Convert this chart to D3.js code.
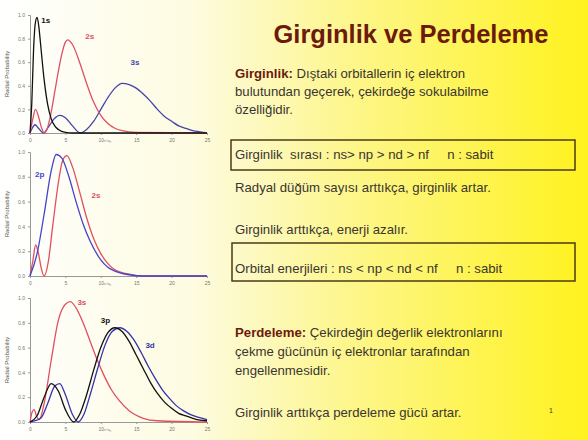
<!DOCTYPE html>
<html><head><meta charset="utf-8">
<script src="https://cdn.jsdelivr.net/npm/d3@7"></script>
<style>body{margin:0}svg{display:block}text{white-space:pre}</style></head>
<body><svg id="c" width="588" height="440"></svg>
<script>
// ---- data ----
const xTicks = [0,5,10,15,20,25];
const p1_1s_x = [0,0.25,0.5,0.75,1,1.25,1.5,2,2.5,3,3.5,4,5,6,25];
const p1_1s_y = [0,0.25,0.7,0.93,0.98,0.9,0.75,0.45,0.24,0.12,0.06,0.03,0.005,0,0];
const p1_2s_x = [0,0.4,0.76,1.2,1.6,2,2.5,3,3.5,4,4.5,5,5.3,6,7,8,9,10,11,12,13,15,25];
const p1_2s_y = [0,0.12,0.2,0.14,0.05,0,0.05,0.18,0.35,0.52,0.67,0.77,0.79,0.75,0.6,0.42,0.26,0.15,0.08,0.04,0.02,0.005,0];
const p1_3s_x = [0,0.4,0.7,1.2,1.9,2.6,3.4,4.2,5,6,7.1,8,9,10,11,12,13,14,15,16,17,18,19,20,21,22,23,24,25];
const p1_3s_y = [0,0.05,0.07,0.04,0,0.05,0.12,0.15,0.13,0.06,0,0.03,0.1,0.2,0.3,0.38,0.42,0.41,0.38,0.33,0.27,0.2,0.14,0.1,0.06,0.04,0.02,0.01,0];
const p2_2p_x = [0,1,2,3,3.7,4.5,5.5,6.5,7.5,8.5,10,11,12,14,16,25];
const p2_2p_y = [0,0.18,0.5,0.85,0.98,0.95,0.8,0.6,0.42,0.28,0.13,0.07,0.04,0.01,0,0];
const p2_2s_x = [0,0.4,0.8,1.2,1.6,2,2.6,3.2,4,4.6,5.2,6,7,8,9,10,11,12,14,16,25];
const p2_2s_y = [0,0.12,0.25,0.18,0.06,0,0.12,0.4,0.75,0.93,0.97,0.88,0.68,0.47,0.3,0.18,0.1,0.05,0.015,0,0];
const p3_red_x = [0,0.3,0.6,0.9,1.3,2,3,4,5,5.7,6.5,7.5,8.5,9.5,10.5,11.5,12.5,14,16,18,25];
const p3_red_y = [0,0.08,0.1,0.05,0.02,0.15,0.5,0.82,0.95,0.97,0.92,0.8,0.65,0.5,0.37,0.26,0.18,0.09,0.03,0.01,0];
const p3_3p_x = [0,1,2,3,4,5,6.2,7,8,9,10,11,12,13,14,15,16,17,18,19,20,21,22,23,24,25];
const p3_3p_y = [0,0.05,0.2,0.31,0.25,0.1,0,0.06,0.22,0.42,0.6,0.72,0.76,0.73,0.65,0.54,0.43,0.32,0.23,0.16,0.11,0.07,0.05,0.03,0.015,0.01];
const p3_3d_x = [0,1.5,2.5,3.5,4.2,5,6,6.8,7.6,8.6,9.6,10.6,11.6,12.7,13.7,14.7,15.7,16.7,17.7,18.7,19.7,20.7,21.7,22.7,23.7,25];
const p3_3d_y = [0,0.03,0.15,0.29,0.31,0.22,0.06,0,0.06,0.24,0.44,0.62,0.73,0.76,0.73,0.66,0.56,0.45,0.35,0.26,0.19,0.13,0.09,0.06,0.04,0.02];
const yTicks = [0,0.2,0.4,0.6,0.8,1];

const svg = d3.select("#c");
const defs = svg.append("defs");
const g = defs.append("linearGradient").attr("id","bg").attr("x1","0").attr("x2","1");
g.append("stop").attr("offset","0").attr("stop-color","#ffffff");
g.append("stop").attr("offset","0.33").attr("stop-color","#fdfbe0");
g.append("stop").attr("offset","0.6").attr("stop-color","#fdf68a");
g.append("stop").attr("offset","1").attr("stop-color","#fff21e");
svg.append("rect").attr("width",588).attr("height",440).attr("fill","url(#bg)");

function panel(top,bottom,series,labels){
  const x = d3.scaleLinear().domain([0,25]).range([30,207]);
  const y = d3.scaleLinear().domain([0,1]).range([bottom,top]);
  const gp = svg.append("g");
  gp.append("g").attr("transform","translate(0,"+bottom+")")
    .call(d3.axisBottom(x).tickValues(xTicks).tickSize(2).tickFormat(d=>d))
    .call(a=>a.selectAll("text").attr("font-size",5).attr("fill","#777"))
    .call(a=>a.selectAll("path,line").attr("stroke","#999"));
  gp.append("g").attr("transform","translate(30,0)")
    .call(d3.axisLeft(y).tickValues(yTicks).tickSize(2).tickFormat(d3.format(".1f")))
    .call(a=>a.selectAll("text").attr("font-size",5).attr("fill","#777"))
    .call(a=>a.selectAll("path,line").attr("stroke","#999"));
  gp.append("text").attr("transform","translate(9,"+((top+bottom)/2)+") rotate(-90)")
    .attr("text-anchor","middle").attr("font-size",6).attr("fill","#555")
    .attr("font-family","Liberation Sans").text("Radial Probability");
  gp.append("text").attr("x",x(10.5)).attr("y",bottom+9).attr("font-size",5).attr("fill","#777").text("r/a₀");
  const line = d3.line().x(d=>x(d[0])).y(d=>y(d[1])).curve(d3.curveMonotoneX);
  series.forEach(s=>{
    gp.append("path").attr("d",line(s.x.map((v,i)=>[v,s.y[i]])))
      .attr("fill","none").attr("stroke",s.c).attr("stroke-width",1.3);
  });
  labels.forEach(l=>gp.append("text").attr("x",x(l[0])).attr("y",y(l[1])).attr("font-size",8)
    .attr("font-weight","bold").attr("font-family","Liberation Sans").attr("fill",l[3]).text(l[2]));
}
panel(15,133,[{x:p1_3s_x,y:p1_3s_y,c:"#4444aa"},{x:p1_2s_x,y:p1_2s_y,c:"#e05060"},{x:p1_1s_x,y:p1_1s_y,c:"#111"}],
  [[1.6,0.93,"1s","#111"],[7.8,0.8,"2s","#e05060"],[14.2,0.58,"3s","#4444aa"]]);
panel(152,276,[{x:p2_2s_x,y:p2_2s_y,c:"#e05060"},{x:p2_2p_x,y:p2_2p_y,c:"#4444cc"}],
  [[0.7,0.8,"2p","#4444cc"],[8.7,0.63,"2s","#e05060"]]);
panel(298,422,[{x:p3_red_x,y:p3_red_y,c:"#e05060"},{x:p3_3d_x,y:p3_3d_y,c:"#3333aa"},{x:p3_3p_x,y:p3_3p_y,c:"#111"}],
  [[6.7,0.94,"3s","#e05060"],[10,0.8,"3p","#111"],[16.3,0.6,"3d","#3333aa"]]);

// ---- text ----
const F = "Liberation Sans";
const ink = "#3a3530", red = "#6b1a0d";
svg.append("text").attr("x",411).attr("y",43).attr("text-anchor","middle")
  .attr("font-family",F).attr("font-weight","bold").attr("font-size",25.5).attr("fill",red)
  .text("Girginlik ve Perdeleme");
function t(x,y,str,bold){
  const el = svg.append("text").attr("x",x).attr("y",y).attr("font-family",F).attr("font-size",13.2).attr("fill",ink)
    .attr("xml:space","preserve");
  if(bold){ el.append("tspan").attr("font-weight","bold").attr("fill",red).text(bold); }
  el.append("tspan").text(str);
}
t(235,78," Dıştaki orbitallerin iç elektron","Girginlik:");
t(235,96,"bulutundan geçerek, çekirdeğe sokulabilme");
t(235,114,"özelliğidir.");
t(235,159,"Girginlik  sırası : ns> np > nd > nf     n : sabit");
t(235,192,"Radyal düğüm sayısı arttıkça, girginlik artar.");
t(235,234,"Girginlik arttıkça, enerji azalır.");
t(235,273,"Orbital enerjileri : ns < np < nd < nf     n : sabit");
t(235,337," Çekirdeğin değerlik elektronlarını","Perdeleme:");
t(235,356,"çekme gücünün iç elektronlar tarafından");
t(235,375,"engellenmesidir.");
t(235,417,"Girginlik arttıkça perdeleme gücü artar.");
svg.append("text").attr("x",549).attr("y",413).attr("font-family",F).attr("font-size",7).attr("fill",ink).text("1");
svg.append("rect").attr("x",231).attr("y",140).attr("width",344).attr("height",30).attr("fill","none").attr("stroke","#4a3a18").attr("stroke-width",1.5);
svg.append("rect").attr("x",232).attr("y",243).attr("width",343).attr("height",38).attr("fill","none").attr("stroke","#4a3a18").attr("stroke-width",1.5);
</script></body></html>
